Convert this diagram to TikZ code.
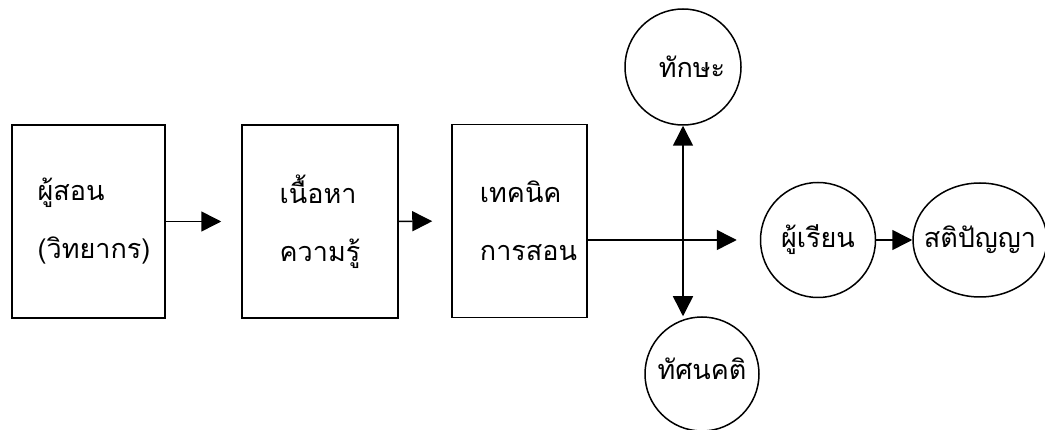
\documentclass[tikz,border=0pt]{standalone}
\usepackage{fontspec}
\newfontfamily\thaifont[Script=Thai]{Loma}
\usetikzlibrary{positioning, arrows.meta, shapes.geometric}

\begin{document}
\begin{tikzpicture}[x=1pt, y=-1pt, line width=1.5pt,
  >={Triangle[length=20pt, width=20pt]},
  every node/.style={font=\thaifont\fontsize{27}{58}\selectfont},
  box node/.style={rectangle, draw, minimum height=193pt, align=left},
  round node/.style={circle, draw, inner sep=0pt, minimum size=115pt}]

\useasboundingbox (0,0) rectangle (1045,430);

\node[box node, minimum width=153pt] (teacher) at (88.5,221.5)
  {\hspace*{11pt}ผู้สอน\\\hspace*{11pt}(วิทยากร)};
\node[box node, minimum width=156pt] (content) at (320,221.5) {เนื้อหา\\ความรู้};
\node[box node, minimum width=135pt] (technique) at (519.5,221)
  {\hspace*{18pt}เทคนิค\\\hspace*{18pt}การสอน};

\node[round node, minimum size=116pt] (skill) at (683,67) {\hspace*{18pt}ทักษะ};
\node[round node, minimum size=114pt] (attitude) at (702,374) {\raisebox{10pt}{ทัศนคติ}};
\node[round node] (learner) at (818,240) {ผู้เรียน};
\node[ellipse, draw, inner sep=0pt, minimum width=134pt, minimum height=114pt]
  (intellect) at (980,240) {\makebox[0pt]{สติปัญญา}};

\draw[->, shorten >=20pt] (teacher) -- (content);
\draw[->, shorten >=19pt] (content) -- (technique);
\draw[->, shorten >=23pt] (learner -| technique.east) -- (learner.west);
\draw[<->] (skill.south) -- (skill.south |- attitude.north);
\draw[->] (learner) -- (intellect);
\end{tikzpicture}
\end{document}
